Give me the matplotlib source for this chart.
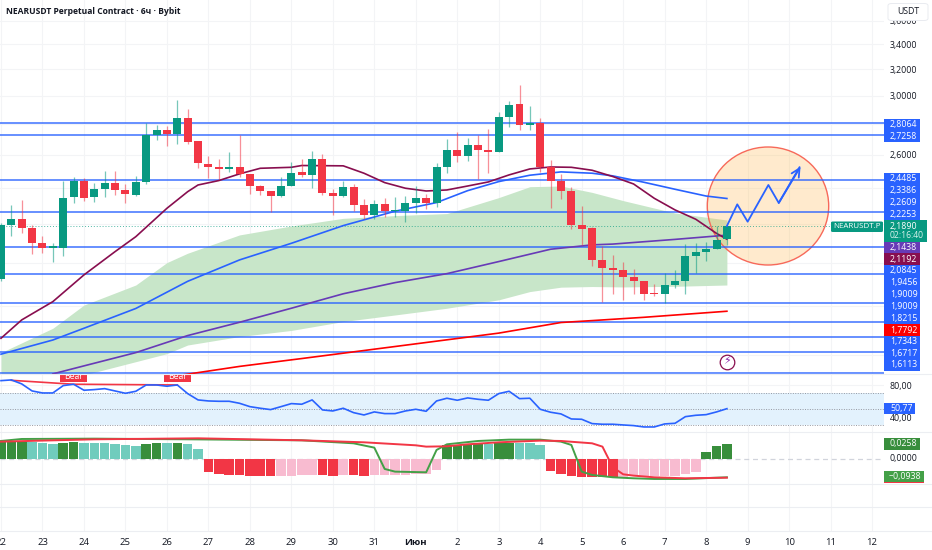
import matplotlib
matplotlib.use('Agg')
import matplotlib.pyplot as plt
from matplotlib.lines import Line2D
from matplotlib.patches import Ellipse, Rectangle, FancyBboxPatch
from matplotlib.ticker import NullLocator

plt.rcParams['font.family'] = ['Open Sans', 'DejaVu Sans']

# --- candles, 6h bars
opens = [1.924, 2.192, 2.225, 2.179, 2.097, 2.076, 2.076, 2.346, 2.443, 2.346, 2.392, 2.429, 2.388, 2.361, 2.435, 2.727,
         2.762, 2.738, 2.844, 2.687, 2.546, 2.523, 2.515, 2.523, 2.481, 2.411, 2.380, 2.351, 2.413, 2.493, 2.479, 2.577,
         2.372, 2.351, 2.407, 2.303, 2.248, 2.310, 2.268, 2.268, 2.314, 2.344, 2.314, 2.525, 2.629, 2.591, 2.664, 2.631,
         2.620, 2.854, 2.940, 2.795, 2.807, 2.527, 2.441, 2.384, 2.195, 2.176, 2.013, 1.975, 1.965, 1.933, 1.913, 1.859,
         1.856, 1.898, 1.915, 2.032, 2.055, 2.070, 2.118]
highs = [2.206, 2.303, 2.331, 2.194, 2.135, 2.098, 2.441, 2.467, 2.457, 2.427, 2.503, 2.503, 2.421, 2.469, 2.807, 2.795,
         2.791, 2.971, 2.904, 2.687, 2.595, 2.572, 2.618, 2.729, 2.483, 2.417, 2.384, 2.467, 2.554, 2.572, 2.624, 2.604,
         2.396, 2.439, 2.425, 2.335, 2.331, 2.340, 2.348, 2.353, 2.411, 2.363, 2.548, 2.703, 2.750, 2.707, 2.727, 2.766,
         2.888, 2.966, 3.081, 2.931, 2.842, 2.568, 2.483, 2.403, 2.297, 2.185, 2.082, 2.040, 2.004, 1.970, 1.916, 1.900,
         1.951, 1.967, 2.095, 2.098, 2.105, 2.190, 2.190]
lows = [1.916, 2.137, 2.149, 2.043, 2.051, 2.007, 2.035, 2.316, 2.327, 2.321, 2.350, 2.359, 2.316, 2.355, 2.425, 2.697,
        2.658, 2.670, 2.668, 2.521, 2.457, 2.451, 2.493, 2.463, 2.363, 2.359, 2.266, 2.348, 2.409, 2.467, 2.399, 2.359,
        2.245, 2.346, 2.271, 2.224, 2.227, 2.236, 2.238, 2.209, 2.257, 2.281, 2.294, 2.487, 2.556, 2.564, 2.453, 2.487,
        2.618, 2.784, 2.762, 2.762, 2.497, 2.286, 2.335, 2.171, 2.087, 1.986, 1.821, 1.854, 1.826, 1.854, 1.826, 1.844,
        1.816, 1.881, 1.857, 1.951, 2.012, 2.070, 2.090]
closes = [2.192, 2.225, 2.179, 2.097, 2.076, 2.082, 2.344, 2.443, 2.344, 2.392, 2.429, 2.388, 2.363, 2.437, 2.729, 2.762,
          2.738, 2.844, 2.684, 2.548, 2.525, 2.515, 2.523, 2.481, 2.413, 2.382, 2.351, 2.411, 2.491, 2.479, 2.577, 2.372,
          2.351, 2.405, 2.305, 2.248, 2.310, 2.270, 2.273, 2.314, 2.344, 2.314, 2.525, 2.629, 2.591, 2.664, 2.631, 2.620,
          2.854, 2.938, 2.795, 2.810, 2.527, 2.441, 2.384, 2.195, 2.174, 2.015, 1.975, 1.964, 1.935, 1.913, 1.857, 1.856,
          1.898, 1.915, 2.032, 2.055, 2.070, 2.116, 2.189]

# --- moving averages (bar index, price)
ma_maroon_x = [0, 2, 5, 8, 11, 13, 16, 18, 19, 21, 23, 25, 28, 29, 33, 35, 37, 39, 41, 43, 45, 47, 49, 51, 53, 55, 57, 59, 61, 63, 65, 67, 69, 70]
ma_maroon = [1.666, 1.742, 1.821, 1.943, 2.056, 2.132, 2.284, 2.378, 2.417, 2.443, 2.483, 2.517, 2.523, 2.534, 2.532, 2.487, 2.431,
             2.398, 2.382, 2.388, 2.411, 2.435, 2.477, 2.513, 2.525, 2.523, 2.505, 2.467, 2.423, 2.340, 2.275, 2.224, 2.149, 2.119]
ma_blue_x = [0, 5, 8, 13, 18, 23, 28, 33, 38, 42, 45, 48, 51, 54, 57, 59, 62, 65, 68, 70]
ma_blue = [1.603, 1.659, 1.707, 1.791, 1.913, 2.015, 2.098, 2.190, 2.268, 2.316, 2.384, 2.437, 2.475, 2.495, 2.487, 2.471, 2.433, 2.392, 2.353, 2.339]
ma_purple_x = [5, 8, 13, 18, 23, 28, 33, 38, 43, 48, 53, 57, 59, 65, 70]
ma_purple = [1.528, 1.558, 1.609, 1.677, 1.732, 1.792, 1.856, 1.907, 1.949, 2.007, 2.068, 2.090, 2.094, 2.118, 2.14]
ma_red_x = [13, 18, 23, 28, 29, 38, 48, 54, 57, 62, 70]
ma_red = [1.50, 1.527, 1.556, 1.581, 1.586, 1.633, 1.687, 1.731, 1.739, 1.753, 1.779]

band_x = [0, 5, 8, 13, 16, 18, 23, 28, 33, 38, 43, 48, 51, 54, 57, 60, 65, 70]
band_upper = [1.609, 1.707, 1.806, 1.896, 2.002, 2.048, 2.141, 2.188, 2.229, 2.244, 2.255, 2.344, 2.407, 2.411, 2.374, 2.327, 2.258, 2.220]
band_lower = [1.45, 1.494, 1.524, 1.574, 1.605, 1.639, 1.673, 1.698, 1.735, 1.763, 1.792, 1.829, 1.866, 1.886, 1.889, 1.887, 1.890, 1.896]

level_lines = [2.8064, 2.7258, 2.4485, 2.2609, 2.0815, 1.9456, 1.8155, 1.7343, 1.6717, 1.6113, 1.5315]

forecast_x = [70, 71, 72, 74, 75, 77]
forecast_y = [2.188, 2.306, 2.211, 2.417, 2.314, 2.523]

# --- RSI
rsi = [85.8, 86.7, 81.7, 72.9, 70.4, 70.4, 79.6, 81.3, 73.8, 74.6, 75.8, 72.9, 70.0, 72.5, 80.4, 80.4, 78.8, 80.4,
       69.6, 61.7, 60.4, 60.0, 60.0, 57.5, 53.3, 51.3, 49.6, 53.3, 57.1, 56.3, 61.7, 49.2, 47.9, 51.3, 45.8, 42.9,
       46.7, 44.6, 44.6, 47.9, 50.0, 47.5, 60.4, 63.8, 61.3, 64.2, 62.5, 61.3, 69.6, 72.5, 63.3, 63.8, 50.0, 46.3,
       44.2, 37.9, 37.5, 32.1, 31.3, 31.3, 30.4, 29.6, 27.9, 27.9, 31.7, 32.5, 40.8, 42.5, 43.3, 46.7, 50.77]
bear_x = [1, 7, 17]
bear_y = [86.2, 81.3, 80.4]
bear_labels = [7, 17]

# --- histogram and signal lines
hist = [.0298, .0287, .0298, .0287, .0281, .0264, .0281, .0287, .0281, .0275, .0275, .0259, .0236, .0225, .0259, .0270,
        .0270, .0275, .0253, .0180, -.0214, -.0247, -.0259, -.0264, -.0275, -.0281, -.0287, -.0281, -.0275, -.0264, -.0264,
        -.0270, -.0275, -.0264, -.0270, -.0275, -.0270, -.0264, -.0259, -.0264, -.0247, -.0247, -.0180, .0242, .0242, .0242,
        .0253, .0253, .0275, .0281, .0281, .0270, .0236, -.0197, -.0247, -.0281, -.0292, -.0298, -.0292, -.0292, -.0292,
        -.0281, -.0275, -.0275, -.0275, -.0281, -.0253, -.0214, .0118, .0219, .0258]
hist_strong = [1, 1, 1, 0, 0, 0, 1, 1, 0, 0, 0, 0, 0, 0, 1, 1, 0, 1, 0, 0, 1, 1, 1, 1, 1, 1, 1, 0, 0, 0, 0, 1, 1, 0, 1, 1,
               0, 0, 0, 0, 0, 0, 0, 1, 1, 1, 1, 0, 1, 1, 0, 0, 0, 1, 1, 1, 1, 1, 1, 1, 0, 0, 0, 0, 0, 0, 0, 0, 1, 1, 1]
macd_x = [0, 2, 9, 18, 29, 34, 36, 37, 38, 41, 42, 43, 46, 49, 52, 54, 55, 56, 57, 59, 61, 63, 66, 70]
macd_line = [.0935, .1037, .1054, .102, .0969, .0816, .0595, -.0493, -.0629, -.0663, .0476, .0765, .0935, .1003, .1003, .0901,
             .0731, -.0629, -.0799, -.0918, -.0969, -.1003, -.1003, -.0918]
signal_x = [0, 9, 19, 29, 35, 40, 41, 43, 45, 48, 52, 54, 57, 58, 59, 60, 61, 63, 66, 70]
signal_line = [.0901, .102, .1071, .0969, .0867, .0714, .0646, .0663, .0765, .0867, .0952, .0935, .0816, .0646, -.0408, -.0765,
               -.0833, -.0918, -.0969, -.0938]

# --- axis text
day_ticks = ['22', '23', '24', '25', '26', '27', '28', '29', '30', '31', 'Июн', '2', '3', '4', '5', '6', '7', '8', '9', '10', '11', '12']
price_ticks = [3.6, 3.4, 3.2, 3.0, 2.6]
grid_prices = [2.8, 2.4, 2.2, 2.0, 1.8, 1.6]
price_labels = ['2,8064', '2,7258', '2,4485', '2,3386', '2,2609', '2,2253', '2,1438', '2,1192', '2,0845', '1,9456', '1,9009', '1,9009',
                '1,8215', '1,7792', '1,7343', '1,6717', '1,6113']

BLUE = '#2962ff'
GREEN = '#089981'
RED = '#f23645'
MAROON = '#880e4f'
PURPLE = '#673ab7'
GRID = '#f3f4f6'
TEXT = '#131722'
W, H = 932, 550
PANE_R = 883.5
BAR_STEP = 10.37
X0 = 1.0


def pane(top, bottom):
    ax = fig.add_axes([0, 1 - bottom / H, PANE_R / W, (bottom - top) / H])
    ax.set_xlim(-X0 / BAR_STEP, (PANE_R - X0) / BAR_STEP)
    for s in ax.spines.values():
        s.set_visible(False)
    ax.set_xticks([4 * k for k in range(len(day_ticks))])
    ax.tick_params(length=0, labelbottom=False, labelleft=False)
    ax.grid(True, axis='x', color=GRID, lw=0.8)
    ax.set_axisbelow(True)
    return ax


def fig_text(x, y, s, color='white', size=6.3, **kw):
    fig.text(x / W, 1 - y / H, s, color=color, fontsize=size, va='center', zorder=12, **kw)


def fig_box(x0, y0, x1, y1, color):
    fig.add_artist(Rectangle((x0 / W, 1 - y1 / H), (x1 - x0) / W, (y1 - y0) / H, transform=fig.transFigure,
                             facecolor=color, edgecolor='none', zorder=10))


fig = plt.figure(figsize=(W / 100, H / 100), dpi=100)

# --- main pane
ax = pane(0, 374)
ax.set_yscale('log')
ax.set_ylim(1.5276, 3.787)
ax.yaxis.set_minor_locator(NullLocator())
ax.set_yticks(price_ticks + grid_prices)
ax.set_yticklabels([f'{p:.4f}'.replace('.', ',') for p in price_ticks] + [''] * len(grid_prices),
                   fontsize=6.3, color=TEXT)
ax.yaxis.tick_right()
ax.tick_params(axis='y', pad=4.5, length=0, labelright=True)
ax.yaxis.set_minor_formatter(plt.NullFormatter())
ax.grid(True, axis='y', color=GRID, lw=0.8)

ax.fill_between(band_x, band_lower, band_upper, color='#c8e6c9', lw=0, zorder=1)
ax.add_patch(Ellipse((768 / PANE_R, 1 - 206 / 374), 121.4 / PANE_R, 118 / 374, transform=ax.transAxes,
                     facecolor='#ffb74d', alpha=0.28, edgecolor='none', zorder=1.5))
ax.add_patch(Ellipse((768 / PANE_R, 1 - 206 / 374), 121.4 / PANE_R, 118 / 374, transform=ax.transAxes,
                     facecolor='none', edgecolor='#f7695a', lw=1.0, zorder=1.6))
ax.hlines(level_lines, -1, 90, color=BLUE, lw=1.1, alpha=0.9, zorder=2)
ax.axhline(closes[-1], color=GREEN, lw=0.7, ls=(0, (1, 2)), alpha=0.7, zorder=2)

ax.plot(ma_red_x, ma_red, color='#ff0000', lw=1.2, zorder=3)
ax.plot(ma_purple_x, ma_purple, color=PURPLE, lw=1.2, zorder=3)
ax.plot(ma_blue_x, ma_blue, color=BLUE, lw=1.2, zorder=3)
ax.plot(ma_maroon_x, ma_maroon, color=MAROON, lw=1.2, zorder=3)

bar_x = list(range(len(closes)))
colors = [GREEN if c >= o else RED for o, c in zip(opens, closes)]
ax.vlines(bar_x, lows, highs, colors=colors, lw=0.9, alpha=0.55, zorder=4)
ax.bar(bar_x, [abs(c - o) for o, c in zip(opens, closes)], bottom=[min(o, c) for o, c in zip(opens, closes)],
       width=0.77, color=colors, lw=0, zorder=5)

ax.plot(forecast_x, forecast_y, color=BLUE, lw=1.3, zorder=6)
ax.annotate('', xy=(forecast_x[-1] + 0.1, forecast_y[-1] + 0.004), xytext=(forecast_x[-2], forecast_y[-2]),
            arrowprops=dict(arrowstyle='->', color=BLUE, lw=1.3, mutation_scale=15, shrinkA=0, shrinkB=0), zorder=6)

# lightning mark under the last bar
ax.plot([70], [1.5745], marker='o', ms=10.5, mfc='white', mec=MAROON, mew=0.9, zorder=6)
ax.text(70, 1.5745, '⚡', color='#8e24aa', fontsize=8, ha='center', va='center', family='DejaVu Sans', zorder=7)

# --- RSI pane
ax_rsi = pane(374, 432)
ax_rsi.set_ylim(21.6, 94.1)
ax_rsi.yaxis.tick_right()
ax_rsi.set_yticks([80, 40])
ax_rsi.set_yticklabels(['80,00', '40,00'], fontsize=6.3, color=TEXT)
ax_rsi.tick_params(axis='y', pad=4.5, length=0, labelright=True)
ax_rsi.grid(True, axis='y', color=GRID, lw=0.8)
ax_rsi.axhspan(30, 70, color='#e3f2fd', lw=0)
for lvl in (70, 50, 30):
    ax_rsi.axhline(lvl, color='#9598a1', lw=0.7, ls=(0, (1, 1.5)))
ax_rsi.plot(bear_x, bear_y, color=RED, lw=1.2, zorder=3)
ax_rsi.plot(bar_x, rsi, color=BLUE, lw=1.2, zorder=4)
for b in bear_labels:
    ax_rsi.add_patch(Rectangle((b - 1.3, 83.5), 2.6, 11, facecolor=RED, edgecolor='none', zorder=5))
    ax_rsi.text(b, 91.5, 'Bear', color='white', fontsize=6.2, ha='center', va='center', clip_on=True, zorder=6)

# --- histogram pane, the lines run on their own scale
ax_hist = pane(432, 484)
ax_hist.set_ylim(-.04165, .0460)
ax_hist.axhline(0, color='#d1d4dc', lw=0.9, ls=(0, (4, 3)))
hist_colors = []
for v, s in zip(hist, hist_strong):
    if v >= 0:
        hist_colors.append('#388e3c' if s else '#70ccbd')
    else:
        hist_colors.append(RED if s else '#f8bbd0')
ax_hist.bar(bar_x, hist, width=0.92, color=hist_colors, lw=0, zorder=2)
ax_line = ax_hist.twinx()
ax_line.set_ylim(-.1260, .1393)
ax_line.set_yticks([])
for s in ax_line.spines.values():
    s.set_visible(False)
ax_line.plot(macd_x, macd_line, color='#43a047', lw=1.4, zorder=3)
ax_line.plot(signal_x, signal_line, color=RED, lw=1.4, zorder=4)

# --- empty pane with the date axis
ax_low = pane(484, 531)
ax_low.set_yticks([])
ax_low.set_xticklabels(day_ticks, fontsize=6.8, color=TEXT)
ax_low.tick_params(axis='x', labelbottom=True, pad=5)
for lbl in ax_low.get_xticklabels():
    if lbl.get_text() == 'Июн':
        lbl.set_fontweight('bold')

for y in (374, 432, 484, 507, 531):
    fig.add_artist(Line2D([0, 1], [1 - y / H, 1 - y / H], color='#eceef2', lw=0.8, transform=fig.transFigure, zorder=1))

# --- title and scale labels
fig_text(6, 11, 'NEARUSDT Perpetual Contract · 6ч · Bybit', color=TEXT, size=6.1, fontweight='bold')

fig.add_artist(FancyBboxPatch((888 / W, 1 - 20.5 / H), 40 / W, 17 / H, boxstyle='round,pad=0,rounding_size=0.004',
                              transform=fig.transFigure, facecolor='white', edgecolor='#e9ebf0', lw=0.7, zorder=10))
fig_text(908, 11.5, 'USDT', color=TEXT, ha='center')

label_rows = [124.5, 136, 179, 190.7, 202.4, 214, 247.5, 259.2, 271, 282.7, 294.5, 306.2, 318, 330, 341.5, 353.2, 365]
label_colors = [BLUE] * 6 + [PURPLE, MAROON] + [BLUE] * 5 + ['#ff0000'] + [BLUE] * 3
for s, y, c in zip(price_labels, label_rows, label_colors):
    fig_box(884, y - 5.9, 919.5, y + 5.9, c)
    fig_text(890, y, s)

fig_box(884, 220, 927, 241.5, GREEN)
fig_text(890, 226, '2,1890')
fig_text(890, 236, '02:16:40', color='#d7f2ec', size=6.2)
fig.add_artist(FancyBboxPatch((831 / W, 1 - 232 / H), 52 / W, 10.5 / H, boxstyle='round,pad=0,rounding_size=0.002',
                              transform=fig.transFigure, facecolor=GREEN, edgecolor='none', zorder=10))
fig_text(857, 226.8, 'NEARUSDT.P', size=5.8, ha='center')

fig_box(884, 402.5, 915, 414, BLUE)
fig_text(890, 408, '50,77')

fig_box(884, 438, 919.5, 449.5, '#388e3c')
fig_text(890, 443.5, '0,0258')
fig_text(890, 458.5, '0,0000', color=TEXT)
fig_box(884, 471, 924, 483, '#43a047')
fig_box(884, 482.3, 924, 483, RED)
fig_text(889, 477, '−0,0938')

plt.savefig('out.png', dpi=100)
